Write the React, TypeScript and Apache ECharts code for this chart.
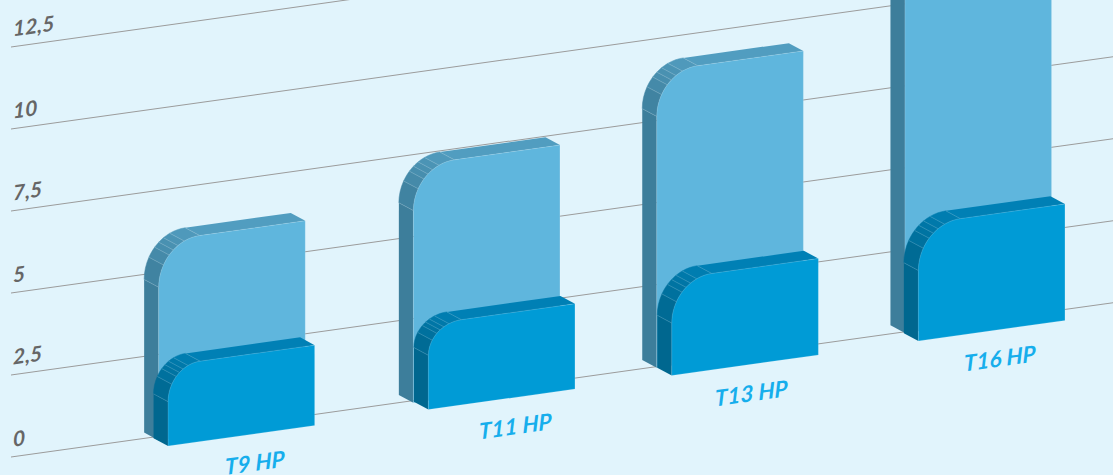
import React, { useEffect, useRef } from "react";
import * as echarts from "echarts";

// --- data ---
const categories = ["T9 HP", "T11 HP", "T13 HP", "T16 HP"];
const tallBarValues = [6.24, 7.46, 9.29, 12];
const shortBarValues = [2.41, 2.56, 2.9, 3.51];

// --- layout, kept apart from the data ---
const SHEAR = 0.14;
const DEPTH_X = 14.5;
const DEPTH_Y = 9.8;
const BAR_WIDTH = 146.6;
const tallShift = [83.2, 62.4, 30.3, 3];
const shortShift = [92.6, 77.4, 45.3, 16.4];
const labelShift = [106, 91, 51.5, 24.5];
const tallBaseLift = [5.7, 7.7, 8.7, 8.6];
const shortBaseLift = [-1.2, -1.2, -1.2, -1.2];
const tallRadius = [[41, 46], [41, 45], [41, 45], [41, 45]];
const shortRadius = [[32, 36], [33, 31], [40, 44], [42, 46]];
const facetAngles = [0, 28, 42, 50, 58, 68, 90];

const tallColors = { front: "#5fb6dd", top: "#519dc0", side: "#3d7e9b" };
const shortColors = { front: "#009bd6", top: "#0080b5", side: "#00678f" };
const BG = "#e1f4fc";
const FACET_LINE = "rgba(255,255,255,0.2)";

function mix(a: string, b: string, t: number) {
  const p = (c: string, i: number) => parseInt(c.slice(1 + i * 2, 3 + i * 2), 16);
  const out = [0, 1, 2].map((i) => Math.round(p(a, i) + (p(b, i) - p(a, i)) * t));
  return `rgb(${out.join(",")})`;
}

function arcPoint(left: number, top: number, rx: number, ry: number, deg: number) {
  const a = (deg * Math.PI) / 180;
  return [left + rx - rx * Math.cos(a), top + ry - ry * Math.sin(a)];
}

function barRenderer(
  shift: number[],
  lift: number[],
  radius: number[][],
  colors: { front: string; top: string; side: string }
) {
  return (_params: any, api: any) => {
    const i = api.value(0);
    const topPt = api.coord([i, api.value(1)]);
    const basePt = api.coord([i, 0]);
    const backLeft = topPt[0] + shift[i] - BAR_WIDTH / 2 - DEPTH_X;
    const backTop = topPt[1];
    const backBottom = basePt[1] - lift[i];
    const L = backLeft + DEPTH_X;
    const R = L + BAR_WIDTH;
    const T = backTop + DEPTH_Y;
    const B = backBottom + DEPTH_Y;
    const [rx, ry] = radius[i];
    const back = (p: number[]) => [p[0] - DEPTH_X, p[1] - DEPTH_Y];
    const children: any[] = [];

    // straight left side
    const start = arcPoint(L, T, rx, ry, 0);
    children.push({
      type: "polygon",
      shape: { points: [back([L, B]), [L, B], start, back(start)] },
      style: { fill: colors.side },
    });
    // straight top side
    const end = arcPoint(L, T, rx, ry, 90);
    children.push({
      type: "polygon",
      shape: { points: [back(end), end, [R, T], back([R, T])] },
      style: { fill: colors.top },
    });
    // rounded corner facets
    for (let f = 0; f < facetAngles.length - 1; f++) {
      const a0 = facetAngles[f];
      const a1 = facetAngles[f + 1];
      const arc: number[][] = [];
      for (let s = 0; s <= 4; s++) arc.push(arcPoint(L, T, rx, ry, a0 + ((a1 - a0) * s) / 4));
      const col = mix(colors.side, colors.top, (a0 + a1) / 180);
      children.push({
        type: "polygon",
        shape: { points: [...arc, ...arc.slice().reverse().map(back)] },
        style: { fill: col, stroke: col, lineWidth: 0.5 },
      });
    }
    facetAngles.forEach((a) => {
      const p = arcPoint(L, T, rx, ry, a);
      const q = back(p);
      children.push({
        type: "line",
        shape: { x1: p[0], y1: p[1], x2: q[0], y2: q[1] },
        style: { stroke: FACET_LINE, lineWidth: 0.8 },
      });
    });
    // front face
    const face: number[][] = [[L, B]];
    for (let d = 0; d <= 90; d += 5) face.push(arcPoint(L, T, rx, ry, d));
    face.push([R, T], [R, B]);
    children.push({
      type: "polygon",
      shape: { points: face },
      style: { fill: colors.front, stroke: "rgba(255,255,255,0.18)", lineWidth: 0.8 },
    });
    return { type: "group", children };
  };
}

function labelRenderer(_params: any, api: any) {
  const i = api.value(0);
  const p = api.coord([i, 0]);
  return {
    type: "text",
    x: p[0] + labelShift[i],
    y: p[1] + 39.5,
    style: {
      text: categories[i],
      fill: "#16aeec",
      fontFamily: "Lato",
      fontStyle: "italic",
      fontWeight: "bold",
      fontSize: 22.5,
      textAlign: "center",
      textVerticalAlign: "middle",
    },
  };
}

export default function App() {
  const ref = useRef<HTMLDivElement>(null);
  useEffect(() => {
    const chart = echarts.init(ref.current!, undefined, { renderer: "svg" });
    chart.setOption({
      animation: false,
      backgroundColor: "transparent",
      grid: { left: 11, top: 48.2, width: 1102, height: 410.3 },
      xAxis: {
        type: "category",
        data: categories,
        axisLine: { show: false },
        axisTick: { show: false },
        axisLabel: { show: false },
      },
      yAxis: {
        type: "value",
        min: 0,
        max: 12.5,
        interval: 2.5,
        axisLine: { show: false },
        axisTick: { show: false },
        splitLine: { show: true, lineStyle: { color: "#9b9b9b", width: 1 } },
        axisLabel: {
          inside: true,
          margin: 2,
          color: "#666666",
          fontFamily: "Lato",
          fontStyle: "italic",
          fontWeight: "bold",
          fontSize: 21,
          align: "left",
          verticalAlign: "bottom",
          padding: [0, 0, 8, 0],
          formatter: (v: number) => String(v).replace(".", ","),
        },
      },
      series: [
        {
          type: "custom",
          name: "tall",
          silent: true,
          clip: false,
          z: 3,
          data: tallBarValues.map((v, i) => [i, v]),
          encode: { x: 0, y: 1 },
          renderItem: barRenderer(tallShift, tallBaseLift, tallRadius, tallColors),
        },
        {
          type: "custom",
          name: "short",
          silent: true,
          clip: false,
          z: 4,
          data: shortBarValues.map((v, i) => [i, v]),
          encode: { x: 0, y: 1 },
          renderItem: barRenderer(shortShift, shortBaseLift, shortRadius, shortColors),
        },
        {
          type: "custom",
          name: "labels",
          silent: true,
          clip: false,
          z: 5,
          data: categories.map((_c, i) => [i, 0]),
          encode: { x: 0, y: 1 },
          renderItem: labelRenderer,
        },
      ],
    });
    return () => chart.dispose();
  }, []);
  return (
    <div
      style={{
        position: "fixed",
        left: 0,
        top: 0,
        width: 1113,
        height: 475,
        overflow: "hidden",
        background: BG,
      }}
    >
      <div
        ref={ref}
        style={{
          width: 1113,
          height: 640,
          transformOrigin: "0 0",
          transform: `matrix(1, ${-SHEAR}, 0, 1, 0, 0)`,
        }}
      />
    </div>
  );
}
